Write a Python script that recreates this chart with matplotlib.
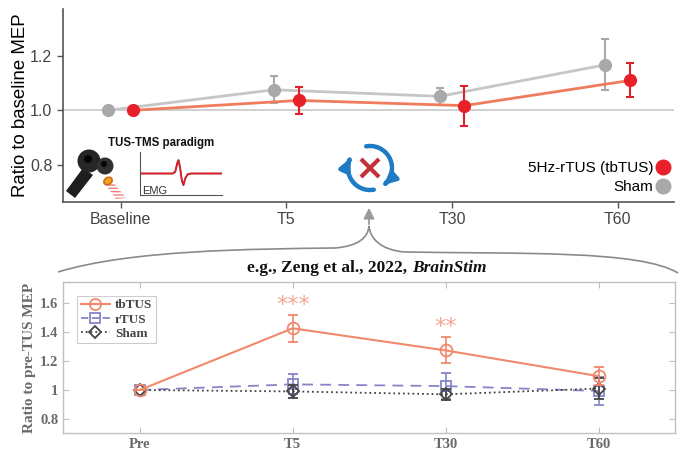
import matplotlib.pyplot as plt
import numpy as np
from matplotlib.lines import Line2D
from matplotlib.path import Path
from matplotlib.patches import PathPatch, FancyArrowPatch, Circle, Polygon, Ellipse

# ---- top panel data (Ratio to baseline MEP)
top_labels = ['Baseline', 'T5', 'T30', 'T60']
tb_mean = [1.0, 1.036, 1.017, 1.109]
tb_err = [0.0, 0.049, 0.073, 0.062]
sham_top_mean = [1.0, 1.075, 1.051, 1.166]
sham_top_err = [0.0, 0.05, 0.032, 0.093]

# ---- bottom panel data (Zeng et al., 2022)
bot_labels = ['Pre', 'T5', 'T30', 'T60']
tbtus = [1.0, 1.427, 1.274, 1.096]
tbtus_err = [0.0, 0.095, 0.09, 0.06]
rtus = [1.0, 1.039, 1.027, 0.993]
rtus_err = [0.0, 0.07, 0.09, 0.095]
sham = [1.0, 0.99, 0.97, 1.01]
sham_err = [0.0, 0.045, 0.04, 0.075]
stars = {1: '***', 2: '**'}

# small EMG trace for the paradigm cartoon
emg_t = [0, 0.40, 0.43, 0.455, 0.47, 0.49, 0.51, 0.53, 0.55, 0.58, 0.62, 1.0]
emg_v = [0, 0, 0.1, 0.6, 0.75, 0.3, -0.4, -0.65, -0.3, -0.05, 0, 0]

W, H = 680, 455
fig = plt.figure(figsize=(6.8, 4.55), dpi=100)

def box(l, t, r, b):
    return [l / W, (H - b) / H, (r - l) / W, (b - t) / H]

sans = ['Liberation Sans', 'DejaVu Sans']
serif = ['Liberation Serif', 'DejaVu Serif']

# ================= top panel
ax = fig.add_axes(box(62.7, 9, 674, 202))
x = np.arange(len(top_labels))
ax.axhline(1.0, color='#c8c8c8', lw=1.2, zorder=1)
ax.errorbar(x - 0.075, sham_top_mean, yerr=sham_top_err, color='#c6c6c6', lw=2,
            marker='o', ms=8.5, mfc='#a9a9a9', mec='#a9a9a9', ecolor='#a9a9a9',
            elinewidth=1.5, capsize=3, capthick=1.5, zorder=2)
ax.errorbar(x + 0.075, tb_mean, yerr=tb_err, color='#ef7c5c', lw=2,
            marker='o', ms=8.5, mfc='#e8202a', mec='#e8202a', ecolor='#e0202a',
            elinewidth=1.5, capsize=3, capthick=1.5, zorder=3)
ax.set_xlim(-0.35, 3.34)
ax.set_ylim(0.665, 1.37)
ax.set_yticks([0.8, 1.0, 1.2])
ax.set_yticklabels(['0.8', '1.0', '1.2'])
ax.set_xticks(x)
ax.set_xticklabels(top_labels)
for s in ['top', 'right']:
    ax.spines[s].set_visible(False)
for s in ['left', 'bottom']:
    ax.spines[s].set_color('#555555')
    ax.spines[s].set_linewidth(1.2)
ax.tick_params(colors='#555555', labelcolor='#444444', labelsize=11.5, length=4, width=1)
for t in ax.get_xticklabels() + ax.get_yticklabels():
    t.set_family(sans)
ax.set_ylabel('Ratio to baseline MEP', fontsize=13.4, family=sans, color='black', labelpad=1)

handles = [Line2D([], [], ls='none', marker='o', ms=10.5, mfc='#e8202a', mec='#e8202a'),
           Line2D([], [], ls='none', marker='o', ms=10.5, mfc='#a9a9a9', mec='#a9a9a9')]
leg = ax.legend(handles, ['5Hz-rTUS (tbTUS)', 'Sham'], loc='lower right',
                bbox_to_anchor=(1.012, -0.03), frameon=False, markerfirst=False,
                handlelength=0.6, handletextpad=0.35, labelspacing=0.3,
                prop={'family': sans, 'size': 11})
for t in leg.get_texts():
    t.set_ha('right')

# EMG cartoon
ae = fig.add_axes(box(140, 152, 222, 195))
ae.plot(emg_t, emg_v, color='#8b1a1a', lw=1.3)
ae.plot(emg_t, [v * 0.92 for v in emg_v], color='#e8202a', lw=1.0)
ae.set_xlim(0, 1)
ae.set_ylim(-1.2, 1.2)
ae.set_xticks([])
ae.set_yticks([])
for s in ['top', 'right']:
    ae.spines[s].set_visible(False)
for s in ['left', 'bottom']:
    ae.spines[s].set_color('#555555')
ae.patch.set_alpha(0)
ae.text(0.02, 0.03, 'EMG', transform=ae.transAxes, fontsize=8, family=sans, color='#333333')

# ================= bottom panel
bx = fig.add_axes(box(63.3, 281.7, 675, 433.3))
xb = np.arange(len(bot_labels))
c_tb, c_r, c_s = '#f2886c', '#8585c8', '#444444'
bx.errorbar(xb, sham, yerr=sham_err, color=c_s, lw=1.3, ls=':', marker='D', ms=6,
            mfc='none', mec=c_s, mew=1.3, ecolor=c_s, elinewidth=1.2, capsize=3.5, zorder=3)
bx.errorbar(xb, rtus, yerr=rtus_err, color=c_r, lw=1.3, ls=(0, (6, 4)), marker='s', ms=7,
            mfc='none', mec=c_r, mew=1.3, ecolor=c_r, elinewidth=1.2, capsize=3.5, zorder=2)
bx.errorbar(xb, tbtus, yerr=tbtus_err, color=c_tb, lw=1.5, marker='o', ms=8.5,
            mfc='none', mec=c_tb, mew=1.3, ecolor=c_tb, elinewidth=1.2, capsize=3.5, zorder=4)
for i, s in stars.items():
    bx.text(xb[i], tbtus[i] + tbtus_err[i] + 0.07, s, ha='center', va='center',
            color='#f5a593', fontsize=16, family=['DejaVu Sans'])
bx.set_xlim(-0.5, 3.5)
bx.set_ylim(0.7, 1.75)
bx.set_yticks([0.8, 1, 1.2, 1.4, 1.6])
bx.set_yticklabels(['0.8', '1', '1.2', '1.4', '1.6'])
bx.set_xticks(xb)
bx.set_xticklabels(bot_labels)
for s in bx.spines.values():
    s.set_color('#c0c0c0')
    s.set_linewidth(1)
bx.tick_params(direction='in', top=True, right=True, color='#c0c0c0', length=4,
               labelcolor='#6a6a6a', labelsize=10.5)
for t in bx.get_xticklabels() + bx.get_yticklabels():
    t.set_family(serif)
    t.set_weight('bold')
bx.set_ylabel('Ratio to pre-TUS MEP', fontsize=11, family=serif, weight='bold',
              color='#6a6a6a', labelpad=3)
bh = [Line2D([], [], color=c_tb, lw=1.5, marker='o', ms=8, mfc='none', mec=c_tb, mew=1.3),
      Line2D([], [], color=c_r, lw=1.3, ls=(0, (4, 2)), marker='s', ms=7, mfc='none', mec=c_r, mew=1.3),
      Line2D([], [], color=c_s, lw=1.3, ls=':', marker='D', ms=6, mfc='none', mec=c_s, mew=1.3)]
bl = bx.legend(bh, ['tbTUS', 'rTUS', 'Sham'], loc='upper left', bbox_to_anchor=(0.012, 0.95),
               fancybox=False, edgecolor='#c0c0c0', handlelength=2.2, handletextpad=0.4,
               borderpad=0.25, labelspacing=0.15,
               prop={'family': serif, 'weight': 'bold', 'size': 9.5})
bl.get_frame().set_linewidth(0.8)
for t in bl.get_texts():
    t.set_color('#444444')

# ================= overlay for cartoon / connectors (pixel coords)
ov = fig.add_axes([0, 0, 1, 1], zorder=5)
ov.set_xlim(0, W)
ov.set_ylim(H, 0)
ov.axis('off')
ov.patch.set_alpha(0)

ov.text(108, 143, 'TUS-TMS paradigm', fontsize=8.3, weight='bold', family=sans,
        va='center', ha='left', color='#111111')

# TMS coil
ov.add_patch(Polygon([[83, 168], [93, 175], [75, 198], [66, 191]], closed=True,
                     fc='#1e1e1e', ec='none', zorder=5))
ov.add_patch(Circle((89, 161), 11.5, fc='#262626', ec='none', zorder=6))
ov.add_patch(Circle((105, 166), 8.5, fc='#303030', ec='none', zorder=6))
ov.add_patch(Circle((88, 159), 4, fc='#050505', ec='none', zorder=7))
ov.add_patch(Circle((104, 164), 3, fc='#050505', ec='none', zorder=7))
ov.add_patch(Polygon([[105, 184], [112, 181], [126, 198], [116, 199]], closed=True,
                     fc='none', ec='#f08080', hatch='-----', lw=0, zorder=5))
ov.add_patch(Ellipse((108, 181), 9, 7, angle=-35, fc='#f0a020', ec='#d06010', lw=1, zorder=7))

# cycle icon with red X
cx, cy, r = 370, 168, 22
for a0, a1 in [(100, -50), (-80, -206)]:
    th = np.radians(np.linspace(a0, a1, 40))
    pts = np.column_stack([cx + r * np.cos(th), cy - r * np.sin(th)])
    ov.add_patch(FancyArrowPatch(path=Path(pts), arrowstyle='-|>', mutation_scale=16,
                                 color='#1f7bc4', lw=3.2, zorder=6))
ov.plot([361, 379], [159, 177], color='#c2303c', lw=3, solid_capstyle='butt', zorder=7)
ov.plot([361, 379], [177, 159], color='#c2303c', lw=3, solid_capstyle='butt', zorder=7)

# brace + arrow
verts = [(58, 272), (130, 250), (250, 249), (335, 248),
         (358, 246), (368, 238), (369, 226),
         (370, 238), (380, 250), (405, 252),
         (520, 254), (640, 250), (678, 273)]
codes = [Path.MOVETO] + [Path.CURVE4] * 12
ov.add_patch(PathPatch(Path(verts, codes), fc='none', ec='#8a8a8a', lw=1.2, zorder=4))
ov.annotate('', xy=(369, 205), xytext=(369, 227),
            arrowprops=dict(arrowstyle='-|>', color='#9a9a9a', lw=1.3, mutation_scale=16))

ov.text(407, 268, 'e.g., Zeng et al., 2022,', ha='right', va='center', fontsize=12.5,
        family=serif, weight='bold', color='#111111')
ov.text(412, 268, 'BrainStim', ha='left', va='center', fontsize=12.5,
        family=serif, weight='bold', style='italic', color='#111111')

fig.savefig('out.png', dpi=100)
